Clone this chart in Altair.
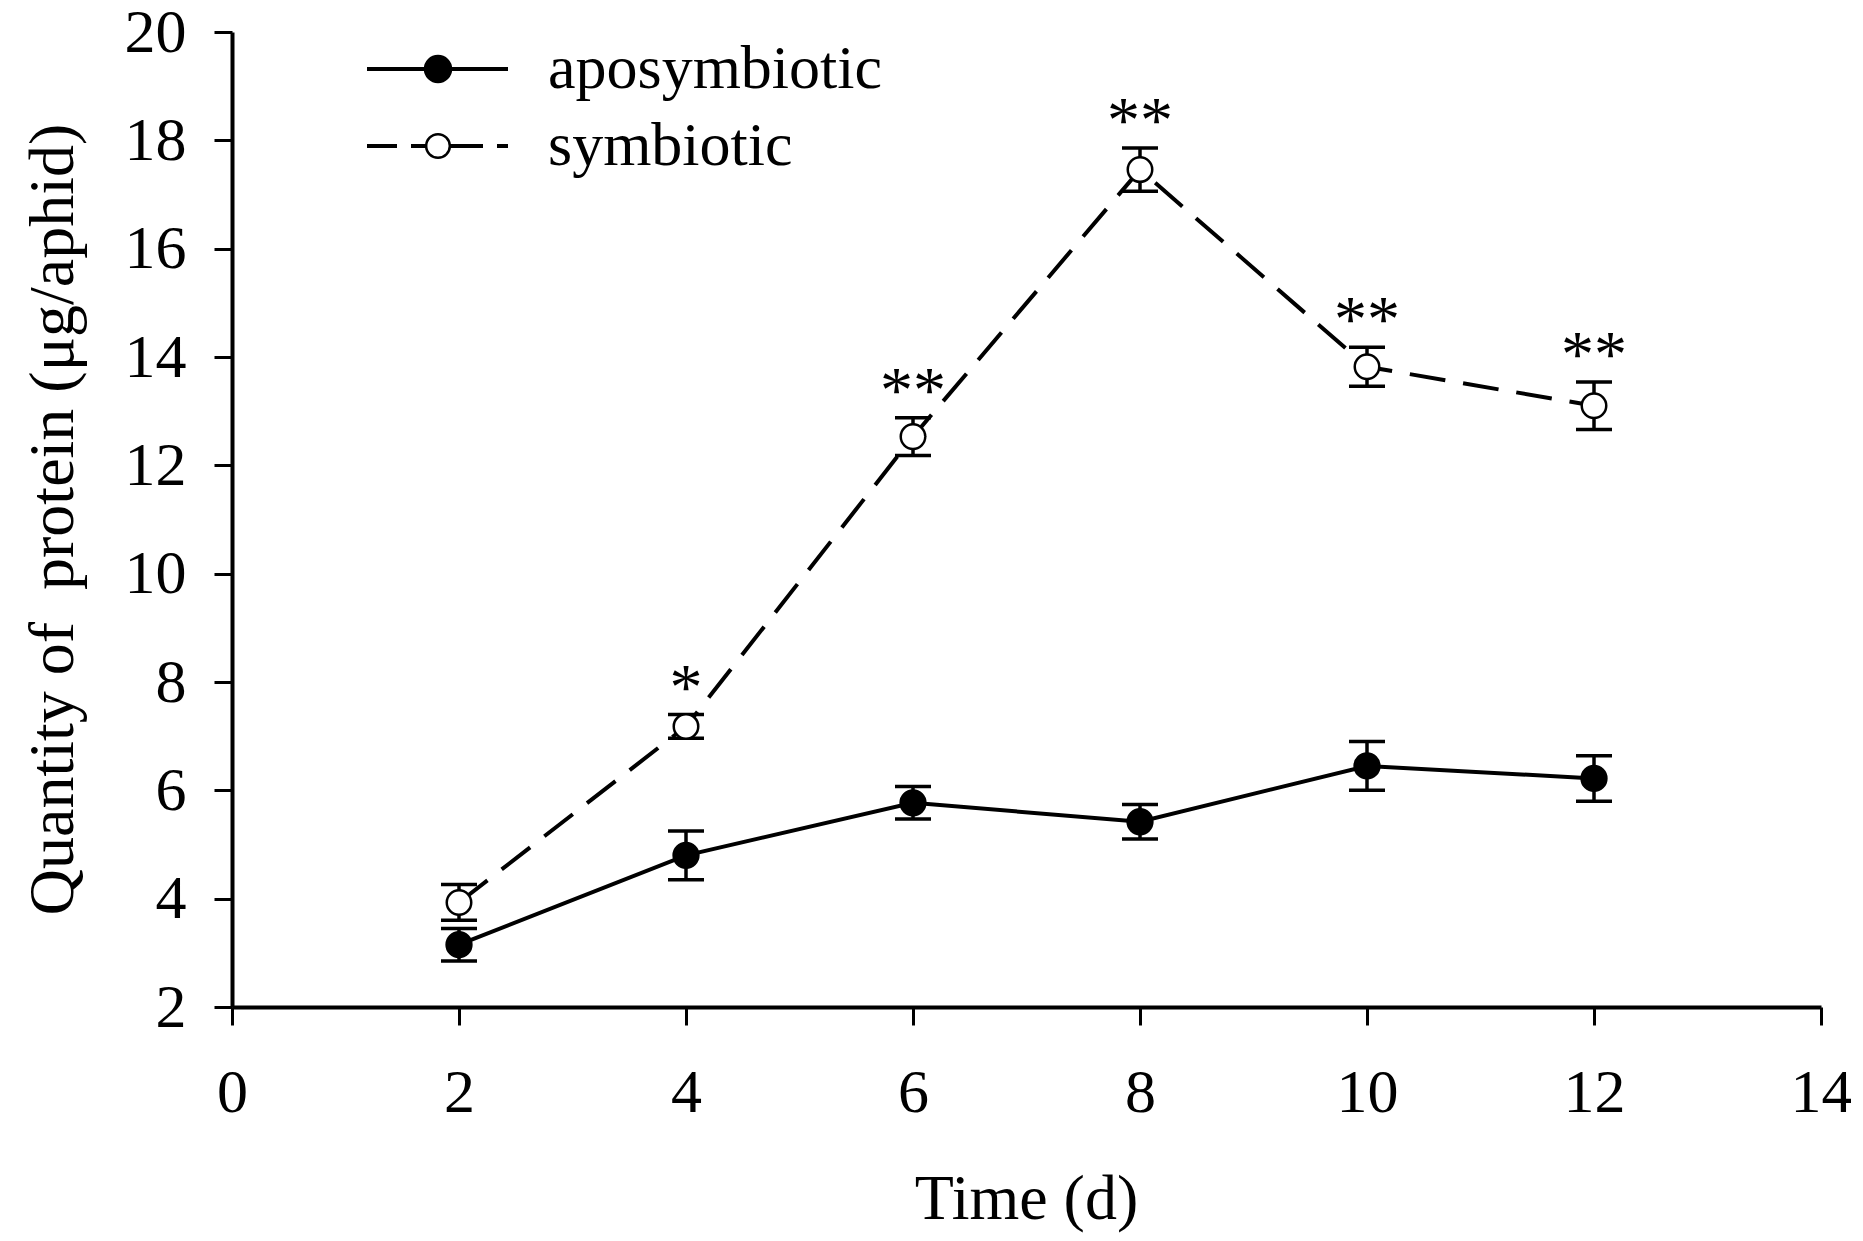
import altair as alt
import pandas as pd

# ---- data ----
days = [2, 4, 6, 8, 10, 12]
apo_mean = [3.15, 4.80, 5.77, 5.42, 6.45, 6.22]
apo_err = [0.30, 0.45, 0.30, 0.32, 0.45, 0.42]
sym_mean = [3.93, 7.18, 12.53, 17.46, 13.82, 13.10]
sym_err = [0.33, 0.22, 0.35, 0.40, 0.36, 0.44]
sym_stars = ["", "*", "**", "**", "**", "**"]
series_names = ["aposymbiotic", "symbiotic"]
x_ticks = [0, 2, 4, 6, 8, 10, 12, 14]
y_ticks = [2, 4, 6, 8, 10, 12, 14, 16, 18, 20]

rows = []
for d, m, e in zip(days, apo_mean, apo_err):
    rows.append({"day": d, "mean": m, "err": e, "series": series_names[0], "stars": ""})
for d, m, e, s in zip(days, sym_mean, sym_err, sym_stars):
    rows.append({"day": d, "mean": m, "err": e, "series": series_names[1], "stars": s})
df = pd.DataFrame(rows)

FONT = "Liberation Serif"

x_scale = alt.Scale(domain=[0, 14], nice=False, zero=False)
y_scale = alt.Scale(domain=[2, 20], nice=False, zero=False)

x_axis = alt.Axis(
    values=x_ticks, title="Time (d)", grid=False,
    domainColor="black", domainWidth=4, tickColor="black", tickWidth=3, tickSize=18,
    labelFont=FONT, labelFontSize=62, labelColor="black", labelPadding=86,
    labelBaseline="alphabetic", labelFlush=False, labelOverlap=False,
    titleFont=FONT, titleFontSize=64, titleFontWeight="normal", titleColor="black",
    titleBaseline="alphabetic", titleX=794, titleY=211, titleAnchor="middle",
)
y_axis = alt.Axis(
    values=y_ticks, title="Quantity of\u00a0 protein (\u03bcg/aphid)", grid=False,
    domainColor="black", domainWidth=4, tickColor="black", tickWidth=3, tickSize=18,
    labelFont=FONT, labelFontSize=62, labelColor="black", labelPadding=28,
    labelBaseline="middle", labelFlush=False, labelOverlap=False,
    titleFont=FONT, titleFontSize=64, titleFontWeight="normal", titleColor="black",
    titleBaseline="alphabetic", titleAngle=270, titleX=-160, titleY=487, titleAnchor="middle",
)

X = alt.X("day:Q", scale=x_scale, axis=x_axis)

base = alt.Chart(df).transform_calculate(
    lo="datum.mean - datum.err", hi="datum.mean + datum.err"
)

line_apo = base.transform_filter(alt.datum.series == series_names[0]).mark_line(
    color="black", strokeWidth=4
).encode(x=X, y=alt.Y("mean:Q", scale=y_scale, axis=y_axis))

line_sym = base.transform_filter(alt.datum.series == series_names[1]).mark_line(
    color="black", strokeWidth=4, strokeDash=[36, 18]
).encode(x=X, y=alt.Y("mean:Q", scale=y_scale, axis=y_axis))

err_rule = base.mark_rule(color="black", strokeWidth=3.5).encode(
    x=X, y=alt.Y("lo:Q", scale=y_scale, axis=y_axis), y2="hi:Q"
)
cap_lo = base.mark_tick(color="black", orient="horizontal", size=36, thickness=3.5, opacity=1).encode(
    x=X, y=alt.Y("lo:Q", scale=y_scale, axis=y_axis)
)
cap_hi = base.mark_tick(color="black", orient="horizontal", size=36, thickness=3.5, opacity=1).encode(
    x=X, y=alt.Y("hi:Q", scale=y_scale, axis=y_axis)
)

pts_apo = base.transform_filter(alt.datum.series == series_names[0]).mark_point(
    shape="circle", filled=True, fill="black", stroke="black", strokeWidth=2, size=640, opacity=1
).encode(x=X, y=alt.Y("mean:Q", scale=y_scale, axis=y_axis))

pts_sym = base.transform_filter(alt.datum.series == series_names[1]).mark_point(
    shape="circle", filled=True, fill="white", stroke="black", strokeWidth=2.5, size=600, opacity=1
).encode(x=X, y=alt.Y("mean:Q", scale=y_scale, axis=y_axis))

stars = base.transform_filter(alt.datum.stars != "").mark_text(
    font=FONT, fontSize=66, color="black", baseline="middle", align="center", dy=-26
).encode(x=X, y=alt.Y("hi:Q", scale=y_scale, axis=y_axis), text="stars:N")

# ---- legend (line + marker sample, label) ----
legend_df = pd.DataFrame({"series": series_names})
leg_style = {
    series_names[0]: dict(row=37, dash=None, fill="black", size=700, sw=2),
    series_names[1]: dict(row=114, dash=[30, 14, 72, 14, 11, 50], fill="white", size=560, sw=2.5),
}
legend_layers = []
for name in series_names:
    st = leg_style[name]
    src = alt.Chart(legend_df).transform_filter(alt.datum.series == name)
    rule_kw = dict(color="black", strokeWidth=4)
    if st["dash"]:
        rule_kw["strokeDash"] = st["dash"]
    legend_layers.append(
        src.mark_rule(**rule_kw).encode(
            x=alt.value(135), x2=alt.value(276), y=alt.value(st["row"])
        )
    )
    legend_layers.append(
        src.mark_point(shape="circle", filled=True, fill=st["fill"], stroke="black",
                       strokeWidth=st["sw"], size=st["size"], opacity=1).encode(
            x=alt.value(206), y=alt.value(st["row"])
        )
    )
    legend_layers.append(
        src.mark_text(font=FONT, fontSize=62, color="black", align="left", baseline="middle", dy=0).encode(
            x=alt.value(316), y=alt.value(st["row"]), text="series:N"
        )
    )

chart = alt.layer(
    line_apo, line_sym, err_rule, cap_lo, cap_hi, pts_apo, pts_sym, stars, *legend_layers
).properties(
    width=1589, height=975,
    autosize=alt.AutoSizeParams(type="none"),
    padding={"left": 224, "top": 24, "right": 30, "bottom": 232},
    background="white",
).configure_view(stroke=None)

chart.save("out.html", embed_options={"renderer": "svg", "actions": False})
